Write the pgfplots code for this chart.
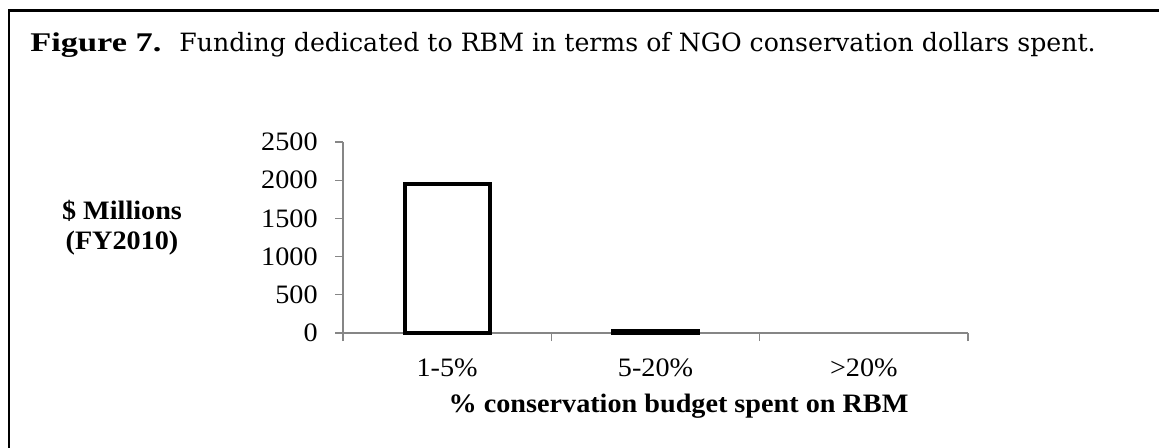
\documentclass[border=0pt]{standalone}
\usepackage{graphicx}
\usepackage{fontspec}
\setmainfont{Liberation Serif}[FakeStretch=1.06]
\newfontfamily\titlereg{DejaVu Serif}
\usepackage{pgfplots}
\pgfplotsset{compat=1.18}
\definecolor{axgray}{RGB}{134,134,134}
\begin{document}
\begin{tikzpicture}
\useasboundingbox (0,0) rectangle (579.5pt,-224pt);
\draw[line width=1.3pt] (4.5pt,-240pt) -- (4.5pt,-5.2pt) -- (600pt,-5.2pt);
\node[anchor=base west, inner sep=0pt, font=\fontsize{13.5}{16}\selectfont] at (15pt,-26pt) {\scalebox{1.2}[1]{\textbf{Figure 7.}}\hspace{9pt}{\titlereg\fontsize{12.6}{16}\selectfont Funding dedicated to RBM in terms of NGO conservation dollars spent.}};
\begin{axis}[
  at={(171.5pt,-166.5pt)}, anchor=south west,
  scale only axis, width=312.5pt, height=95.5pt,
  xmin=-0.5, xmax=2.5, ymin=0, ymax=2500,
  axis x line=bottom, axis y line=left,
  axis line style={-, draw=axgray, line width=0.6pt},
  tick style={draw=axgray, line width=0.6pt},
  tick align=outside, major tick length=4pt,
  xtick={-0.5,0.5,1.5,2.5}, xticklabels={},
  extra x ticks={0,1,2}, extra x tick labels={1-5\%,5-20\%,>20\%},
  extra x tick style={major tick length=0pt, grid=none},
  ytick={0,500,1000,1500,2000,2500},
  /pgf/number format/assume math mode=true,
  /pgf/number format/1000 sep={},
  ticklabel style={font=\fontsize{13.3}{16}\selectfont},
  yticklabel style={anchor=east, inner sep=0pt, xshift=-8.5pt},
  xticklabel style={anchor=base, inner sep=0pt, yshift=-21.5pt},
  every axis y label/.style={at={(axis description cs:-0.3536,0.4346)}, anchor=base, align=center, font=\bfseries\fontsize{13.3}{15}\selectfont},
  ylabel={\$ Millions\\(FY2010)},
  xlabel={\% conservation budget spent on RBM},
  xlabel style={at={(axis description cs:0.5368,-0.4188)}, anchor=base, inner sep=0pt, font=\bfseries\fontsize{13.3}{16}\selectfont},
  clip=false,
]
\addplot[ybar, bar width=42.5pt, fill=white, draw=black, line width=2.15pt] coordinates {(0,1950) (1,20)};
\end{axis}
\end{tikzpicture}
\end{document}
